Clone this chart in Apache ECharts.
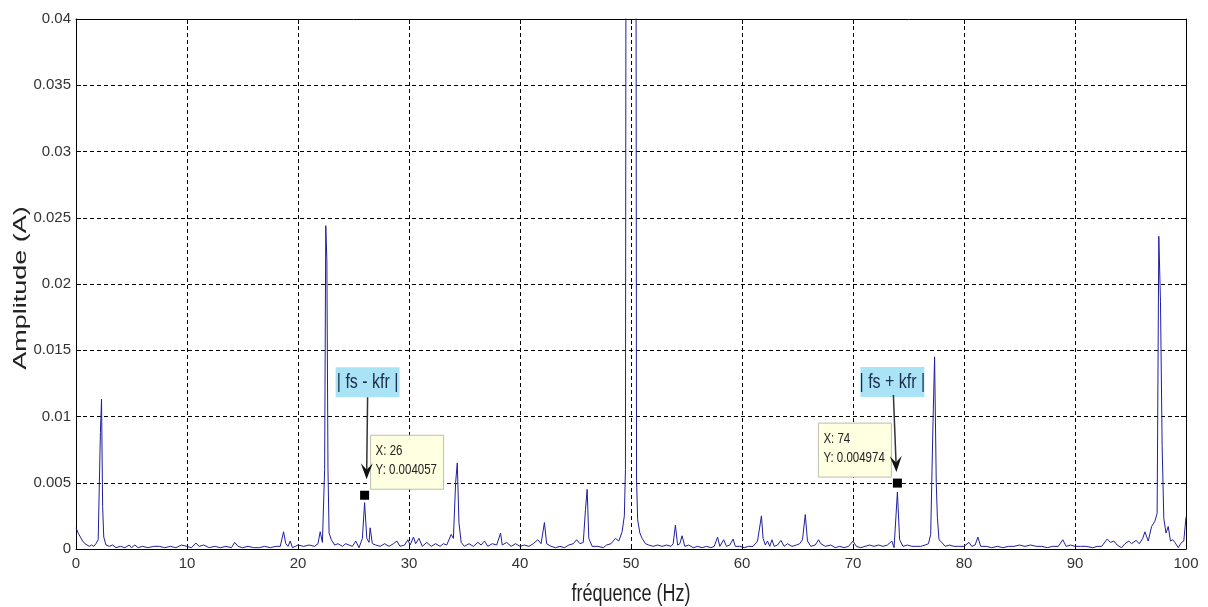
<!DOCTYPE html>
<html>
<head>
<meta charset="utf-8">
<script src="https://cdn.jsdelivr.net/npm/echarts@6/dist/echarts.min.js"></script>
<style>html,body{margin:0;padding:0;background:#fff}#c{width:1208px;height:607px}</style>
</head>
<body>
<div id="c"></div>
<script>
const freqHz = [0,0.2,0.4,0.6,0.8,1.0,1.2,1.4,1.6,1.8,2.0,2.2,2.3,2.4,2.5,2.7,3.0,3.3,3.6,4.0,4.4,4.8,5.0,5.3,5.6,6.0,6.5,7.0,7.5,8.0,8.5,9.0,9.5,10.0,10.4,10.8,11.1,11.5,12.0,12.5,13.0,13.5,14.0,14.3,14.6,15.0,15.5,16.0,16.5,17.0,17.5,18.0,18.4,18.7,18.9,19.1,19.3,19.5,20.0,20.5,21.0,21.5,21.8,22.0,22.2,22.4,22.5,22.6,22.7,22.8,23.0,23.3,23.6,24.0,24.3,24.6,24.9,25.2,25.5,25.8,26.0,26.2,26.4,26.5,26.7,27.0,27.4,27.8,28.2,28.6,28.9,29.2,29.6,29.9,30.1,30.4,30.6,30.9,31.2,31.6,32.0,32.4,32.8,33.1,33.4,33.8,34.0,34.2,34.35,34.5,34.7,35.0,35.4,35.8,36.2,36.5,36.8,37.1,37.5,37.9,38.25,38.4,38.8,39.2,39.6,40.0,40.4,40.8,41.2,41.6,41.9,42.2,42.4,42.8,43.2,43.6,44.0,44.4,44.8,45.1,45.4,45.7,45.9,46.05,46.2,46.5,47.0,47.5,47.8,48.2,48.6,48.9,49.2,49.4,49.5,49.6,49.8,50.0,50.2,50.4,50.5,50.6,50.8,51.0,51.3,51.6,52.0,52.4,52.8,53.2,53.6,53.8,54.0,54.2,54.4,54.6,54.85,55.2,55.6,56.0,56.4,56.8,57.2,57.5,57.8,58.0,58.35,58.6,58.9,59.2,59.4,59.8,60.2,60.6,61.0,61.4,61.75,61.9,62.1,62.3,62.5,62.7,62.9,63.2,63.5,63.8,64.1,64.5,64.9,65.2,65.45,65.7,65.9,66.2,66.6,66.9,67.1,67.5,68.0,68.4,68.8,69.2,69.6,70.0,70.3,70.7,71.1,71.5,71.9,72.3,72.7,73.1,73.5,73.7,74.0,74.2,74.5,74.9,75.3,75.7,76.1,76.5,76.8,77.0,77.2,77.35,77.5,77.6,77.75,78.0,78.3,78.7,79.1,79.5,80.0,80.45,80.7,81.0,81.25,81.5,82.0,82.5,83.0,83.5,84.0,84.5,85.0,85.5,86.0,86.5,87.0,87.5,88.0,88.5,88.9,89.2,89.6,90.0,90.5,91.0,91.6,92.0,92.4,92.9,93.2,93.5,93.8,94.2,94.5,94.85,95.1,95.5,95.8,96.1,96.3,96.6,96.9,97.2,97.4,97.55,97.7,97.85,98.0,98.2,98.4,98.6,98.8,99.0,99.3,99.6,99.8,100];
const ampA = [0.0016,0.0012,0.0009,0.0006,0.0004,0.0003,0.0002,0.0003,0.0002,0.0004,0.0007,0.0088,0.0113,0.0032,0.0009,0.0003,0.0002,0.0003,0.0001,0.0002,0.0001,0.0003,0.0001,0.0003,0.0001,0.0002,0.0001,0.0002,0.0002,0.0001,0.0002,0.0001,0.0003,0.0002,0.0001,0.00045,0.0002,0.0003,0.0001,0.0002,0.0001,0.0002,0.0001,0.0005,0.0002,0.0001,0.0002,0.0001,0.0001,0.0002,0.0001,0.0002,0.0002,0.0013,0.0004,0.0002,0.0006,0.0001,0.0003,0.0002,0.0003,0.0002,0.0004,0.0013,0.0005,0.0060,0.0244,0.0218,0.0060,0.0012,0.0007,0.0003,0.0004,0.0002,0.0004,0.0003,0.0002,0.0006,0.0001,0.0008,0.0035,0.0008,0.0005,0.0016,0.0004,0.0003,0.0002,0.0004,0.0002,0.0004,0.0006,0.0002,0.0003,0.0007,0.0003,0.0009,0.0004,0.0008,0.0002,0.0005,0.0002,0.0004,0.0002,0.0004,0.0003,0.0011,0.0008,0.0050,0.0065,0.0020,0.0005,0.0002,0.0004,0.0002,0.0005,0.0003,0.0006,0.0002,0.0004,0.0003,0.0012,0.0003,0.0005,0.0002,0.0004,0.0002,0.0003,0.0002,0.0004,0.0007,0.0004,0.0020,0.0004,0.0002,0.0001,0.0002,0.0001,0.0003,0.0004,0.0007,0.0004,0.0005,0.0030,0.0045,0.0008,0.0002,0.0002,0.0001,0.0003,0.0004,0.0008,0.0006,0.0013,0.0025,0.0060,0.09,0.3,0.5,0.3,0.09,0.0052,0.0022,0.0012,0.0008,0.0004,0.0003,0.0002,0.0003,0.0002,0.0003,0.0002,0.0004,0.0018,0.0003,0.0004,0.0010,0.0002,0.0003,0.0001,0.0002,0.0001,0.0002,0.0001,0.0002,0.0009,0.0002,0.0007,0.0002,0.0003,0.00075,0.0002,0.0002,0.0001,0.0002,0.0002,0.0006,0.0025,0.0008,0.0003,0.0006,0.0002,0.0007,0.0002,0.0003,0.00065,0.0002,0.0004,0.0002,0.0003,0.0004,0.0007,0.0026,0.0006,0.0002,0.0003,0.0007,0.0004,0.0002,0.0003,0.0001,0.0002,0.0001,0.0002,0.0006,0.0002,0.0001,0.0002,0.0003,0.0002,0.0003,0.0002,0.0003,0.0006,0.0001,0.0043,0.0007,0.0002,0.0003,0.0002,0.0002,0.0002,0.0003,0.0004,0.0011,0.0092,0.0145,0.0050,0.0024,0.0007,0.0005,0.0002,0.0003,0.0002,0.0002,0.0002,0.0005,0.0002,0.0003,0.0009,0.0002,0.0002,0.0001,0.0002,0.0001,0.0002,0.0002,0.0003,0.0002,0.0003,0.0002,0.0002,0.0001,0.0002,0.0002,0.0007,0.0002,0.0003,0.0002,0.0002,0.0002,0.0001,0.0002,0.0002,0.00075,0.0005,0.0006,0.0003,0.0001,0.0004,0.0006,0.0004,0.00065,0.0004,0.0008,0.0013,0.0006,0.0017,0.0021,0.0027,0.0236,0.0187,0.0078,0.0023,0.0012,0.0017,0.0006,0.0007,0.0005,0.0001,0.0005,0.0006,0.0024];
const xTicks = {min: 0, max: 100, interval: 10};
const yTicks = {min: 0, max: 0.04, interval: 0.005};
const dataTips = [
  {x: 26, y: 0.004057, label: '| fs - kfr |'},
  {x: 74, y: 0.004974, label: '| fs + kfr |'}
];
const xName = 'fréquence (Hz)';
const yName = 'Amplitude (A)';

const FONT = "'Liberation Sans', Arial, sans-serif";
const chart = echarts.init(document.getElementById('c'), null, {renderer: 'canvas'});
const seriesData = freqHz.map((f, i) => [f, ampA[i]]);
const gridLine = {show: true, lineStyle: {color: '#000', type: [4, 3], width: 1}};
const tickIn = {show: true, inside: true, length: 5, lineStyle: {color: '#000'}};
const option = {
  animation: false,
  backgroundColor: '#fff',
  grid: {left: 76, right: 22, top: 19, bottom: 58, containLabel: false, outerBoundsMode: 'none'},
  xAxis: [{
    type: 'value', min: xTicks.min, max: xTicks.max, interval: xTicks.interval,
    axisLine: {show: true, onZero: false, lineStyle: {color: '#000', width: 1}},
    axisTick: tickIn,
    axisLabel: {fontFamily: FONT, fontSize: 15, color: '#333', margin: 7},
    splitLine: gridLine
  }, {
    type: 'value', position: 'top', min: xTicks.min, max: xTicks.max, interval: xTicks.interval,
    axisLine: {show: true, onZero: false, lineStyle: {color: '#000', width: 1}},
    axisTick: tickIn, axisLabel: {show: false}, splitLine: {show: false}
  }],
  yAxis: [{
    type: 'value', min: yTicks.min, max: yTicks.max, interval: yTicks.interval,
    axisLine: {show: true, onZero: false, lineStyle: {color: '#000', width: 1}},
    axisTick: tickIn,
    axisLabel: {fontFamily: FONT, fontSize: 15, color: '#333', margin: 5},
    splitLine: gridLine
  }, {
    type: 'value', position: 'right', min: yTicks.min, max: yTicks.max, interval: yTicks.interval,
    axisLine: {show: true, onZero: false, lineStyle: {color: '#000', width: 1}},
    axisTick: tickIn, axisLabel: {show: false}, splitLine: {show: false}
  }],
  series: [{
    type: 'line', data: seriesData, showSymbol: false, clip: true,
    lineStyle: {color: '#1f1f9e', width: 1}, z: 3,
    markPoint: {
      symbol: 'rect', symbolSize: 9, silent: true,
      itemStyle: {color: '#000'}, label: {show: false},
      data: dataTips.map(d => ({coord: [d.x, d.y]}))
    }
  }]
};
chart.setOption(option);

function arrow(x1, y1, x2, y2) {
  const ang = Math.atan2(y2 - y1, x2 - x1);
  const L = 16, W = 6;
  const bx = x2 - L * Math.cos(ang), by = y2 - L * Math.sin(ang);
  const nx = -Math.sin(ang), ny = Math.cos(ang);
  const mx = x2 - L * 0.6 * Math.cos(ang), my = y2 - L * 0.6 * Math.sin(ang);
  return [
    {type: 'line', shape: {x1, y1, x2: mx, y2: my}, style: {stroke: '#333', lineWidth: 1.5}, z: 20},
    {type: 'polygon', shape: {points: [[x2, y2], [bx + nx * W, by + ny * W], [mx, my], [bx - nx * W, by - ny * W]]},
     style: {fill: '#111'}, z: 21}
  ];
}
const g = [];
// axis titles (stretched like the reference)
const gridTL = chart.convertToPixel({gridIndex: 0}, [xTicks.min, yTicks.max]);
const gridBR = chart.convertToPixel({gridIndex: 0}, [xTicks.max, yTicks.min]);
g.push({type: 'text', x: (gridTL[0] + gridBR[0]) / 2, y: gridBR[1] + 45, scaleY: 1.35,
  style: {text: xName, font: '18px ' + FONT, fill: '#222', align: 'center', verticalAlign: 'middle'}, z: 10});
g.push({type: 'text', x: gridTL[0] - 55, y: (gridTL[1] + gridBR[1]) / 2 + 4, rotation: Math.PI / 2, scaleX: 1.5,
  style: {text: yName, font: '18px ' + FONT, fill: '#222', align: 'center', verticalAlign: 'middle'}, z: 10});
dataTips.forEach((d, i) => {
  const p = chart.convertToPixel({gridIndex: 0}, [d.x, d.y]);
  const yStr = 'Y: ' + d.y;
  let bx, by, cx, cy;
  if (i === 0) { bx = p[0] + 6; by = p[1] - 60; cx = p[0] + 3; cy = p[1] - 128; }
  else { bx = p[0] - 79; by = p[1] - 60; cx = p[0] - 5; cy = p[1] - 116; }
  g.push({type: 'rect', shape: {x: bx, y: by, width: 73, height: 54},
    style: {fill: '#ffffe2', stroke: '#bdbdae', lineWidth: 1}, z: 15});
  g.push({type: 'text', x: bx + 5, y: by + 16, scaleY: 1.3, style: {text: 'X: ' + d.x, font: '11.5px ' + FONT, fill: '#222', verticalAlign: 'middle'}, z: 16});
  g.push({type: 'text', x: bx + 5, y: by + 35, scaleY: 1.3, style: {text: yStr, font: '11.5px ' + FONT, fill: '#222', verticalAlign: 'middle'}, z: 16});
  g.push({type: 'rect', shape: {x: cx - 32, y: cy, width: 64, height: 30},
    style: {fill: '#a9e3f5', stroke: 'none'}, z: 17});
  g.push({type: 'text', x: cx, y: cy + 15, scaleY: 1.3, style: {text: d.label, font: '16px ' + FONT, fill: '#1a2a4a', align: 'center', verticalAlign: 'middle'}, z: 18});
  if (i === 0) g.push(...arrow(cx, cy + 30, p[0] + 2, p[1] - 16));
  else g.push(...arrow(cx + 1, cy + 28, p[0] - 1, p[1] - 11));
});
chart.setOption({graphic: g});
</script>
</body>
</html>
